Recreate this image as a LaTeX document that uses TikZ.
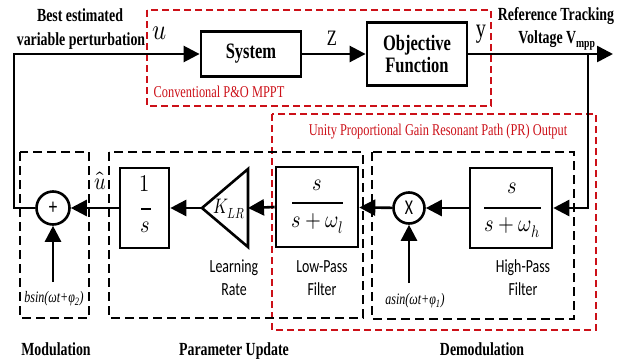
\documentclass[tikz,border=0pt]{standalone}
\usepackage{fontspec}
\usepackage{unicode-math}
\setmathfont{Latin Modern Math}
\usepackage{graphicx}
\usetikzlibrary{arrows.meta}
\newfontfamily\tnr{Liberation Serif}[FakeStretch=0.75]
\newfontfamily\cbr{Carlito}[FakeStretch=0.75]
\definecolor{prred}{RGB}{204,16,24}
\newcommand\fsz[1]{\fontsize{#1}{#1}\selectfont}
\newcommand\nmath[2]{{\fsz{#1}\scalebox{0.85}[1]{$#2$}}}

\begin{document}
\begin{tikzpicture}[x=1pt,y=-1pt,
  wire/.style={line width=2.6pt},
  arr/.style={wire,-{Triangle[length=16pt,width=16pt]}},
  blk/.style={draw,line width=2.8pt,inner sep=0pt},
  grp/.style={draw,line width=1.8pt,dash pattern=on 9pt off 5pt},
  prgrp/.style={draw=prred,line width=1.6pt,dash pattern=on 7pt off 4pt},
  junc/.style={circle,draw,line width=2.6pt,inner sep=0pt},
  title/.style={font={\tnr\bfseries\fsz{18.5}},anchor=base,inner sep=0pt},
  caption/.style={font={\cbr\fsz{18.5}},anchor=base,inner sep=0pt},
  redtext/.style={font={\tnr\fsz{16.5}},text=prred,anchor=base,inner sep=0pt},
  sinlbl/.style={font={\tnr\itshape\fsz{16}},anchor=base,inner sep=0pt},
  fterm/.style={inner sep=0pt},
  fbar/.style={line width=2pt}
]
\useasboundingbox (0,0) rectangle (632,362);

% ---------- grouping frames ----------
\draw[prgrp] (147,10) rectangle (491,106);
\draw[prgrp] (272,114) rectangle (596,330);
\draw[grp] (20,152) rectangle (89,318);
\draw[grp] (109,152) rectangle (363,318);
\draw[grp] (372,152) rectangle (574,319);

% ---------- top loop: plant and objective ----------
\node[blk,minimum width=100pt,minimum height=45pt] (sys) at (251,54)
  {\tnr\bfseries\fsz{22}System};
\node[blk,minimum width=100pt,minimum height=63pt,align=center,
      font={\tnr\bfseries\fsz{22}}] (obj) at (417,54)
  {\fontsize{22}{30}\selectfont Objective\\Function};

\coordinate (vout) at (613,54);
\coordinate (tap) at (588,54);

% ---------- lower chain ----------
\node[junc,minimum size=33pt] (sum) at (53,208) {\tnr\bfseries\fsz{22}+};
\node[blk,line width=2.6pt,minimum width=49pt,minimum height=80pt] (integ) at (144.5,208) {};
\coordinate (kout) at (202,208);
\coordinate (kin) at (248,208);
\draw[wire,line join=miter] (kout) -- (248,169) -- (248,247) -- cycle;
\node[fterm] (kgain) at (229,209) {{\fsz{21}\scalebox{0.78}[1]{$K_{LR}$}}};
\node[blk,line width=2.6pt,minimum width=82pt,minimum height=80pt] (lpf) at (317,207) {};
\node[junc,minimum size=31pt] (mul) at (409,208) {\cbr\fsz{21}X};
\node[blk,line width=2.6pt,minimum width=82pt,minimum height=80pt] (hpf) at (511,208) {};

% fraction 1/s
\node[fterm] (intn) at (145,184) {\nmath{24}{1}};
\draw[fbar] (141,209) -- (151,209);
\node[fterm] (intd) at (145,227) {\nmath{24}{s}};

% low-pass fraction
\node[fterm] (lpfn) at (317,185) {\nmath{24}{s}};
\draw[fbar] (292,203) -- (343,203);
\node[fterm] (lpfd) at (317,224) {\nmath{24}{s+\omega_l}};

% high-pass fraction
\node[fterm] (hpfn) at (512,188) {\nmath{24}{s}};
\draw[fbar] (484,208) -- (541,208);
\node[fterm] (hpfd) at (512,228) {\nmath{24}{s+\omega_h}};

% dither sources
\coordinate (bsrc) at (53,282);
\coordinate (asrc) at (409,283);
\coordinate (fbl) at (14,208);

% ---------- connectors ----------
\draw[arr] (sys) -- (obj);
\draw[arr] (obj) -- (vout);
\draw[arr] (tap) |- (hpf.east);
\draw[arr] (hpf) -- (mul);
\draw[arr] (mul) -- (lpf);
\draw[arr] (lpf.west) -- (kin);
\draw[arr] (kout) -- (integ.east);
\draw[arr] (integ) -- (sum);
\draw[arr] (bsrc) -- (sum.south);
\draw[arr] (asrc) -- (mul.south);
\draw[arr] (sum.west) -- (fbl) |- (sys.west);

% ---------- signal labels ----------
\node[fterm] (ulbl) at (160,33) {\nmath{29}{u}};
\node[fterm] (uhat) at (100,181) {\nmath{24}{\hat{u}}};
\node[fterm,anchor=base] (zlbl) at (332,45) {\tnr\fsz{22}Z};
\node[fterm,anchor=base] (ylbl) at (481,37) {\tnr\fsz{27}y};

\node[title] (t1) at (80,21) {Best estimated};
\node[title] (t2) at (81,45) {variable perturbation};
\node[title] (t3) at (556,20) {Reference Tracking};
\node[title] (t4) at (557,43) {Voltage V\textsubscript{mpp}};

\node[redtext] (r1) at (219,97) {Conventional P\&O MPPT};
\node[redtext] (r2) at (438,135) {Unity Proportional Gain Resonant Path (PR) Output};

\node[caption] (c1) at (234,272) {Learning};
\node[caption] (c2) at (234,295) {Rate};
\node[caption] (c3) at (322,272) {Low-Pass};
\node[caption] (c4) at (322,295) {Filter};
\node[caption] (c5) at (523,272) {High-Pass};
\node[caption] (c6) at (523,295) {Filter};

\node[sinlbl] (bs) at (54,302) {bsin(ωt+φ\textsubscript{2})};
\node[sinlbl] (as) at (415,304) {asin(ωt+φ\textsubscript{1})};

\node[title] (g1) at (56,355) {Modulation};
\node[title] (g2) at (234,355) {Parameter Update};
\node[title] (g3) at (482,355) {Demodulation};
\end{tikzpicture}
\end{document}
